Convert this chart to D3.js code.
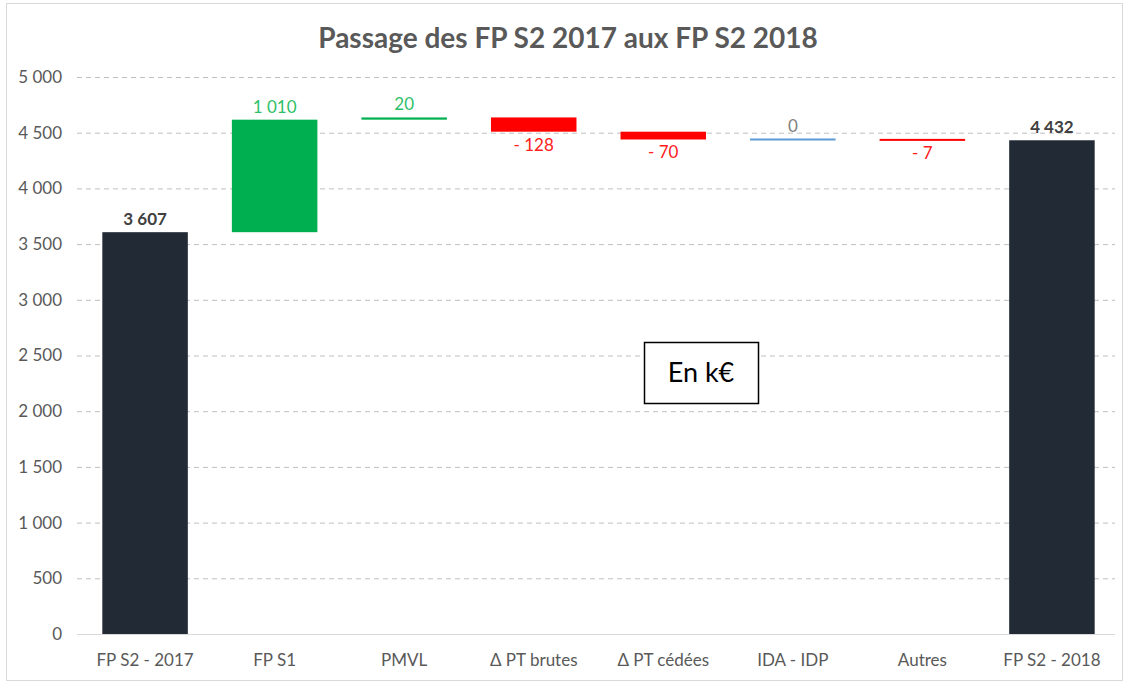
<!DOCTYPE html>
<html>
<head>
<meta charset="utf-8">
<script src="https://cdn.jsdelivr.net/npm/d3@7"></script>
<style>
body { margin: 0; background: #fff; }
svg { font-family: Lato, "Open Sans", sans-serif; }
</style>
</head>
<body>
<div id="chart"></div>
<script>
var categories = ['FP S2 - 2017', 'FP S1', 'PMVL', '\u0394 PT brutes', '\u0394 PT c\u00e9d\u00e9es', 'IDA - IDP', 'Autres', 'FP S2 - 2018'];
var values = [3607, 1010, 20, -128, -70, 0, -7, 4432];
var kinds = ['total', 'delta', 'delta', 'delta', 'delta', 'delta', 'delta', 'total'];
var yTicks = [0, 500, 1000, 1500, 2000, 2500, 3000, 3500, 4000, 4500, 5000];

var width = 1129;
var height = 684;
var margin = { top: 77, right: 14, bottom: 50, left: 77 };

var svg = d3.select('#chart').append('svg').attr('width', width).attr('height', height);

// chart area border
svg.append('rect')
  .attr('x', 6.5).attr('y', 3.5).attr('width', width - 13).attr('height', height - 7)
  .attr('fill', 'none').attr('stroke', '#d9d9d9');

var x = d3.scaleBand().domain(categories).range([margin.left + 2, width - margin.right + 3]).paddingInner(0.34).paddingOuter(0.18);
var y = d3.scaleLinear().domain([0, 5000]).range([height - margin.bottom, margin.top]);

var fmt = function(v) { return d3.format(',')(Math.abs(v)).replace(/,/g, '\u00a0'); };

// build waterfall steps
var running = 0;
var steps = values.map(function(v, i) {
  var s;
  if (kinds[i] === 'total') {
    s = { lo: 0, hi: v, v: v, kind: 'total' };
    running = v;
  } else {
    var start = running;
    running += v;
    s = { lo: Math.min(start, running), hi: Math.max(start, running), v: v, kind: v > 0 ? 'up' : (v < 0 ? 'down' : 'zero') };
  }
  s.cat = categories[i];
  return s;
});

var colors = { total: '#222a35', up: '#00b050', down: '#ff0000', zero: '#5b9bd5' };
var labelColors = { total: '#404040', up: '#2fbf68', down: '#ff2020', zero: '#7f7f7f' };

// gridlines
svg.append('g').selectAll('line').data(yTicks.filter(function(d) { return d > 0; })).join('line')
  .attr('x1', margin.left).attr('x2', width - margin.right)
  .attr('y1', function(d) { return y(d) + 0.5; }).attr('y2', function(d) { return y(d) + 0.5; })
  .attr('stroke', '#bfbfbf').attr('stroke-dasharray', '5,4');

// y axis labels
var yAxis = d3.axisLeft(y).tickValues(yTicks).tickSize(0).tickPadding(15).tickFormat(fmt);
var ya = svg.append('g').attr('transform', 'translate(' + margin.left + ',0)').call(yAxis);
ya.select('.domain').remove();
ya.selectAll('text').attr('fill', '#595959').style('font-size', '17px').style('font-family', 'Lato, sans-serif');

// bars
var minH = 2;
svg.append('g').selectAll('rect').data(steps).join('rect')
  .attr('x', function(d) { return x(d.cat); })
  .attr('width', x.bandwidth())
  .attr('y', function(d) {
    var h = y(d.lo) - y(d.hi);
    return h < minH ? (y(d.lo) + y(d.hi)) / 2 - minH / 2 : y(d.hi);
  })
  .attr('height', function(d) { return Math.max(minH, y(d.lo) - y(d.hi)); })
  .attr('fill', function(d) { return colors[d.kind]; });

// baseline
svg.append('line')
  .attr('x1', margin.left).attr('x2', width - margin.right)
  .attr('y1', y(0) + 0.5).attr('y2', y(0) + 0.5)
  .attr('stroke', '#d9d9d9');

// x axis labels
var xAxis = d3.axisBottom(x).tickSize(0).tickPadding(20);
var xa = svg.append('g').attr('transform', 'translate(0,' + y(0) + ')').call(xAxis);
xa.select('.domain').remove();
xa.selectAll('text').attr('fill', '#595959').style('font-size', '17px').style('font-family', 'Lato, sans-serif');

// value labels
svg.append('g').selectAll('text').data(steps).join('text')
  .attr('x', function(d) { return x(d.cat) + x.bandwidth() / 2; })
  .attr('y', function(d) { return d.kind === 'down' ? y(d.lo) + 19 : y(d.hi) - 7; })
  .attr('text-anchor', 'middle')
  .attr('fill', function(d) { return labelColors[d.kind]; })
  .style('font-size', '17px')
  .style('font-weight', function(d) { return d.kind === 'total' ? 'bold' : 'normal'; })
  .text(function(d) { return (d.v < 0 ? '-\u00a0' : '') + fmt(d.v); });

// title
svg.append('text')
  .attr('x', 568).attr('y', 48)
  .attr('text-anchor', 'middle')
  .attr('fill', '#595959')
  .style('font-size', '28px').style('font-weight', 'bold')
  .text('Passage des FP S2 2017 aux FP S2 2018');

// unit box
svg.append('rect')
  .attr('x', 644.5).attr('y', 342.5).attr('width', 114).attr('height', 61)
  .attr('fill', '#fff').attr('stroke', '#000').attr('stroke-width', 1.5);
svg.append('text')
  .attr('x', 701).attr('y', 382)
  .attr('text-anchor', 'middle')
  .attr('fill', '#000')
  .style('font-size', '27px')
  .text('En k\u20ac');
</script>
</body>
</html>
